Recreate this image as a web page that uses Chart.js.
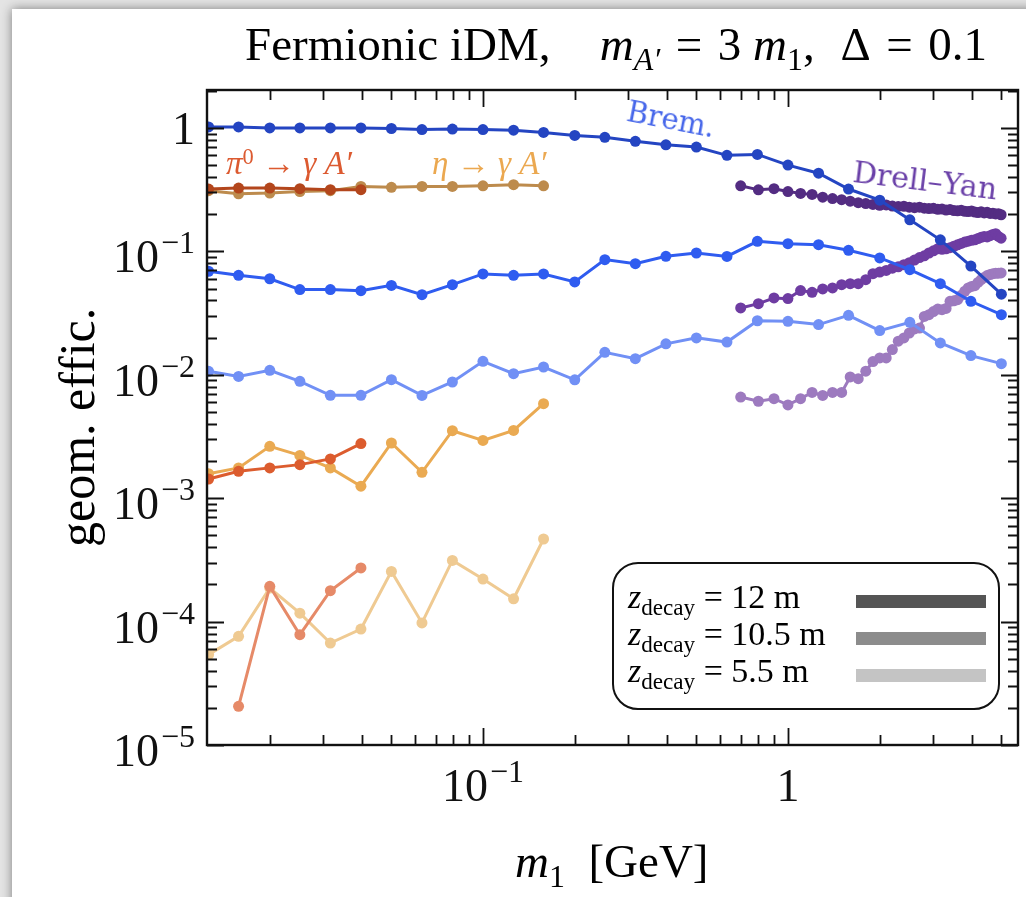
<!DOCTYPE html>
<html>
<head>
<meta charset="utf-8">
<script src="https://cdn.jsdelivr.net/npm/chart.js@4/dist/chart.umd.min.js"></script>
<style>
  html, body { margin: 0; padding: 0; }
  body { width: 1026px; height: 897px; overflow: hidden; background: #e4e4e4; position: relative; font-family: "Liberation Serif", serif; }
  .card { position: absolute; left: 12px; top: 9px; width: 1100px; height: 1000px; background: #fff; box-shadow: 0 0 10px rgba(0,0,0,0.45); }
  #chart { position: absolute; left: 0; top: 0; }
  .txt { position: absolute; white-space: nowrap; line-height: 1; }
  .txt i { font-style: italic; }
  .sub { font-size: 0.68em; position: relative; top: 0.3em; }
  .sup { font-size: 0.68em; position: relative; top: -0.45em; }
  .eq { margin: 0 0.33em; }
  .gap { margin-left: 0.3em; }
  .legend { position: absolute; left: 612px; top: 562px; width: 384px; height: 144px; border: 2.5px solid #111; border-radius: 26px; }
  .legend .row { position: absolute; left: 14px; font-size: 34px; white-space: nowrap; }
  .legend .bar { position: absolute; left: 242px; width: 130px; height: 13px; }
</style>
</head>
<body>
<div class="card"></div>
<canvas id="chart" width="1026" height="897"></canvas>

<div class="txt" style="left:245px; top:21px; font-size:47px;">Fermionic iDM,<span class="gap"></span>&nbsp;&nbsp;&nbsp;<i>m</i><span class="sub"><i>A′</i></span><span class="eq">=</span>3 <i>m</i><span class="sub">1</span>,<span class="gap"></span> Δ<span class="eq">=</span>0.1</div>
<div class="txt" style="left:52px; top:547px; font-size:50px; transform-origin:0 0; transform:rotate(-90deg);">geom. effic.</div>
<div class="txt" style="left:515px; top:838px; font-size:47px;"><i>m</i><span class="sub">1</span>&nbsp;&nbsp;[GeV]</div>

<div class="txt" style="left:226px; top:147px; font-size:33px; color:#dc5a30;"><i>π</i><span class="sup">0</span> → <i>γ A′</i></div>
<div class="txt" style="left:432px; top:147px; font-size:33px; color:#eba850;"><i>η</i> → <i>γ A′</i></div>
<div class="txt" style="left:630px; top:97px; font-size:29px; color:#4767ea; font-family:'DejaVu Serif',serif; transform-origin:0 0; transform:rotate(11deg);">Brem.</div>
<div class="txt" style="left:855px; top:157px; font-size:30px; color:#6a40a8; font-family:'DejaVu Serif',serif; transform-origin:0 0; transform:rotate(7deg);">Drell–Yan</div>

<div class="legend">
  <div class="row" style="top:14px;"><i>z</i><span class="sub">decay</span> = 12 m</div>
  <div class="bar" style="top:31px; background:#555;"></div>
  <div class="row" style="top:51px;"><i>z</i><span class="sub">decay</span> = 10.5 m</div>
  <div class="bar" style="top:68px; background:#8c8c8c;"></div>
  <div class="row" style="top:88px;"><i>z</i><span class="sub">decay</span> = 5.5 m</div>
  <div class="bar" style="top:105px; background:#c4c4c4;"></div>
</div>

<script>
// masses (GeV) for the bremsstrahlung and meson-decay scans
const massGrid = [0.0126, 0.0158, 0.0200, 0.0251, 0.0316, 0.0398, 0.0501, 0.0631, 0.0794, 0.100,
                  0.126, 0.158, 0.200, 0.251, 0.316, 0.398, 0.501, 0.631, 0.794, 1.00,
                  1.26, 1.58, 2.00, 2.51, 3.16, 3.98, 5.01];
// masses (GeV) for the Drell-Yan scan
const massDY = [0.7, 0.8, 0.9, 1.0, 1.1, 1.2, 1.3, 1.4, 1.5, 1.6, 1.7, 1.8, 1.9, 2.0, 2.1,
                2.2, 2.3, 2.4, 2.5, 2.6, 2.7, 2.8, 2.9, 3.0, 3.1, 3.2, 3.3, 3.4, 3.5, 3.6,
                3.7, 3.8, 3.9, 4.0, 4.1, 4.2, 4.3, 4.4, 4.5, 4.6, 4.7, 4.8, 4.9, 5.0];

// bremsstrahlung, z_decay = 12 / 10.5 / 5.5 m
const brem12 = [1.02, 1.02, 1.0, 1.0, 1.0, 1.0, 0.99, 0.97, 0.98, 0.97, 0.96, 0.92, 0.87, 0.84,
                0.78, 0.73, 0.70, 0.60, 0.61, 0.50, 0.43, 0.32, 0.26, 0.18, 0.124, 0.076, 0.045];
const brem105 = [0.069, 0.064, 0.060, 0.049, 0.049, 0.048, 0.053, 0.0446, 0.0537, 0.0656, 0.064,
                 0.0656, 0.0565, 0.0857, 0.0795, 0.0911, 0.097, 0.091, 0.1205, 0.1154, 0.1133,
                 0.102, 0.0885, 0.0711, 0.0547, 0.0394, 0.0307];
const brem55 = [0.01066, 0.0097, 0.01086, 0.00885, 0.00681, 0.00681, 0.00912, 0.0068, 0.00874,
                0.01284, 0.0102, 0.01156, 0.0091, 0.0152, 0.0135, 0.0178, 0.0199, 0.0184, 0.0274,
                0.0271, 0.0255, 0.0303, 0.0228, 0.0266, 0.0181, 0.0143, 0.0123];

// pi0 -> gamma A'
const pi12 = [0.32, 0.326, 0.326, 0.322, 0.316, 0.316];
const pi105 = [1.43e-3, 1.65e-3, 1.76e-3, 1.87e-3, 2.08e-3, 2.77e-3];
const pi55 = [null, 2.06e-5, 1.93e-4, 7.83e-5, 1.78e-4, 2.72e-4];

// eta -> gamma A'
const eta12 = [0.31, 0.293, 0.297, 0.305, 0.31, 0.336, 0.33, 0.336, 0.336, 0.34, 0.347, 0.34];
const eta105 = [1.58e-3, 1.76e-3, 2.63e-3, 2.22e-3, 1.76e-3, 1.25e-3, 2.80e-3, 1.62e-3, 3.52e-3,
                2.94e-3, 3.54e-3, 5.83e-3];
const eta55 = [5.4e-5, 7.59e-5, 1.87e-4, 1.17e-4, 6.7e-5, 8.7e-5, 2.55e-4, 9.75e-5, 3.13e-4,
               2.21e-4, 1.53e-4, 4.67e-4];

// Drell-Yan
const dy12 = [0.34, 0.315, 0.322, 0.305, 0.295, 0.289, 0.275, 0.268, 0.262, 0.255, 0.248, 0.244,
              0.240, 0.236, 0.238, 0.233, 0.231, 0.232, 0.228, 0.226, 0.228, 0.224, 0.222, 0.223,
              0.219, 0.220, 0.216, 0.218, 0.214, 0.213, 0.215, 0.211, 0.210, 0.212, 0.208, 0.206,
              0.209, 0.205, 0.207, 0.203, 0.204, 0.201, 0.202, 0.198];
const dy105 = [0.0348, 0.0377, 0.0419, 0.0414, 0.0481, 0.0466, 0.0496, 0.0505, 0.0537, 0.0547,
               0.0547, 0.059, 0.066, 0.068, 0.070, 0.073, 0.075, 0.078, 0.081, 0.085, 0.089, 0.092,
               0.097, 0.101, 0.105, 0.104, 0.105, 0.107, 0.110, 0.113, 0.116, 0.119, 0.121, 0.123,
               0.124, 0.127, 0.130, 0.132, 0.131, 0.134, 0.137, 0.139, 0.132, 0.128];
const dy55 = [0.0066, 0.0061, 0.0064, 0.0057, 0.0064, 0.0072, 0.0068, 0.0072, 0.0072, 0.0096,
              0.0093, 0.0107, 0.0128, 0.0137, 0.0137, 0.0160, 0.0187, 0.0199, 0.0218, 0.0235,
              0.0239, 0.0297, 0.0307, 0.0325, 0.0341, 0.0337, 0.0345, 0.0394, 0.0398, 0.0406,
              0.0440, 0.0475, 0.0505, 0.0520, 0.0527, 0.0560, 0.0590, 0.0615, 0.0636, 0.0648,
              0.0660, 0.0664, 0.0666, 0.0668];

// axis ranges and labelled ticks
const xRange = [0.01245, 5.68];
const yRange = [1e-5, 2.03];
const xTickValues = [0.1, 1];
const xTickExps = ['−1', ''];
const yTickValues = [1e-5, 1e-4, 1e-3, 1e-2, 1e-1, 1];
const yTickExps = ['−5', '−4', '−3', '−2', '−1', ''];

function pairs(xs, ys) {
    const out = [];
    for (let i = 0; i < ys.length; i++) {
        if (ys[i] !== null) out.push({ x: xs[i], y: ys[i] });
    }
    return out;
}

function series(xs, ys, color) {
    return {
        data: pairs(xs, ys),
        borderColor: color,
        backgroundColor: color,
        borderWidth: 3,
        pointRadius: 5.5,
        pointHoverRadius: 5.5,
        pointBorderWidth: 0,
        tension: 0,
        clip: 0
    };
}

// frame, inward ticks on all four sides and power-of-ten labels
const logFrame = {
    id: 'logFrame',
    afterDatasetsDraw(chart) {
        const ctx = chart.ctx;
        const a = chart.chartArea;
        const xs = chart.scales.x;
        const ys = chart.scales.y;
        ctx.save();
        ctx.strokeStyle = '#111';
        ctx.lineWidth = 1.8;

        function minorList(lo, hi) {
            const vals = [];
            for (let e = Math.floor(Math.log10(lo)); e <= Math.ceil(Math.log10(hi)); e++) {
                for (let m = 1; m <= 9; m++) {
                    const v = m * Math.pow(10, e);
                    if (v >= lo && v <= hi) vals.push({ v: v, major: m === 1 });
                }
            }
            return vals;
        }

        minorList(xRange[0], xRange[1]).forEach(function(t) {
            const px = Math.round(xs.getPixelForValue(t.v)) + 0.5;
            const len = t.major ? 17 : 10;
            ctx.beginPath();
            ctx.moveTo(px, a.bottom); ctx.lineTo(px, a.bottom - len);
            ctx.moveTo(px, a.top); ctx.lineTo(px, a.top + len);
            ctx.stroke();
        });
        minorList(yRange[0], yRange[1]).forEach(function(t) {
            const py = Math.round(ys.getPixelForValue(t.v)) + 0.5;
            const len = t.major ? 17 : 10;
            ctx.beginPath();
            ctx.moveTo(a.left, py); ctx.lineTo(a.left + len, py);
            ctx.moveTo(a.right, py); ctx.lineTo(a.right - len, py);
            ctx.stroke();
        });

        ctx.lineWidth = 2.4;
        ctx.strokeRect(a.left, a.top, a.right - a.left, a.bottom - a.top);

        const baseFont = '46px "Liberation Serif", serif';
        const expFont = '32px "Liberation Serif", serif';
        ctx.fillStyle = '#111';
        ctx.textBaseline = 'alphabetic';

        function labelWidth(exp) {
            ctx.font = baseFont;
            if (!exp) return { base: ctx.measureText('1').width, exp: 0 };
            const b = ctx.measureText('10').width;
            ctx.font = expFont;
            return { base: b, exp: ctx.measureText(exp).width + 2 };
        }
        function drawLabel(exp, left, baseline) {
            ctx.font = baseFont;
            ctx.textAlign = 'left';
            if (!exp) { ctx.fillText('1', left, baseline); return; }
            ctx.fillText('10', left, baseline);
            const b = ctx.measureText('10').width;
            ctx.font = expFont;
            ctx.fillText(exp, left + b + 2, baseline - 19);
        }

        yTickValues.forEach(function(v, i) {
            const py = ys.getPixelForValue(v);
            const w = labelWidth(yTickExps[i]);
            const total = w.base + w.exp;
            const baseline = yTickExps[i] ? py + 21 : py + 16;
            drawLabel(yTickExps[i], a.left - 12 - total, baseline);
        });
        xTickValues.forEach(function(v, i) {
            const px = xs.getPixelForValue(v);
            const w = labelWidth(xTickExps[i]);
            const total = w.base + w.exp;
            drawLabel(xTickExps[i], px - total / 2, a.bottom + 56);
        });
        ctx.restore();
    }
};

const chart = new Chart(document.getElementById('chart').getContext('2d'), {
    type: 'line',
    data: {
        datasets: [
            series(massGrid, pi12, '#b3461c'),
            series(massGrid, eta12, '#bd8b4d'),
            series(massGrid, pi105, '#dc5c2e'),
            series(massGrid, eta105, '#eaaa52'),
            series(massGrid, pi55, '#e68a68'),
            series(massGrid, eta55, '#efca92'),
            series(massGrid, brem12, '#2445c2'),
            series(massGrid, brem105, '#2f5cf0'),
            series(massGrid, brem55, '#7190f5'),
            series(massDY, dy12, '#532c82'),
            series(massDY, dy105, '#6e3ca2'),
            series(massDY, dy55, '#9d7abf')
        ]
    },
    options: {
        responsive: false,
        animation: false,
        events: [],
        layout: { padding: { left: 207, top: 90, right: 8, bottom: 152 } },
        plugins: { legend: { display: false }, tooltip: { enabled: false } },
        scales: {
            x: { type: 'logarithmic', min: xRange[0], max: xRange[1], display: false },
            y: { type: 'logarithmic', min: yRange[0], max: yRange[1], display: false }
        }
    },
    plugins: [logFrame]
});
</script>
</body>
</html>
